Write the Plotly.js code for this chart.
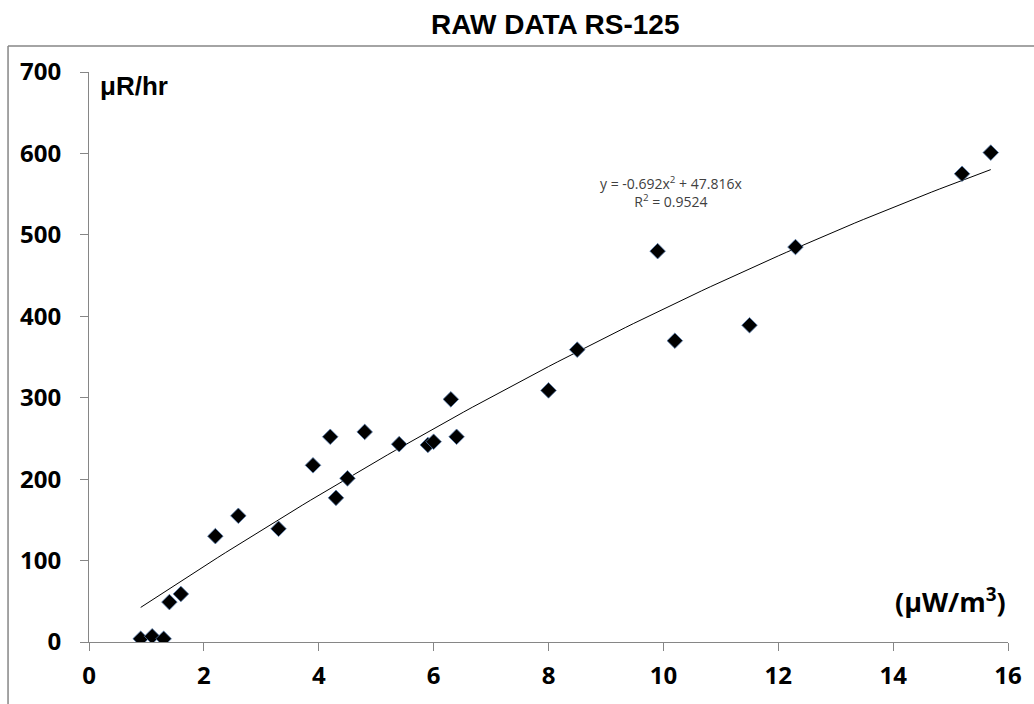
<!DOCTYPE html>
<html><head><meta charset="utf-8">
<script src="https://cdn.plot.ly/plotly-3.0.1.min.js"></script>
<style>html,body{margin:0;padding:0;background:#fff}#chart{width:1034px;height:704px}</style>
</head><body><div id="chart"></div>
<script>
// Data
const xValues = [0.9, 1.1, 1.3, 1.4, 1.6, 2.2, 2.6, 3.3, 3.9, 4.2, 4.3, 4.5, 4.8, 5.4, 5.9, 6.0, 6.3, 6.4, 8.0, 8.5, 9.9, 10.2, 11.5, 12.3, 15.2, 15.7];
const yValues = [4, 7, 4, 49, 59, 130, 155, 139, 217, 252, 177, 201, 258, 243, 242, 246, 298, 252, 309, 359, 480, 370, 389, 485, 575, 601];
// Trendline coefficients as stated on the chart
const coefA = -0.692;
const coefB = 47.816;
const rSquared = 0.9524;
const xTicks = [0, 2, 4, 6, 8, 10, 12, 14, 16];
const yTicks = [0, 100, 200, 300, 400, 500, 600, 700];

const xmin = Math.min(...xValues), xmax = Math.max(...xValues);
const tx = [], ty = [];
const n = 100;
for (let i = 0; i <= n; i++) {
  const x = xmin + (xmax - xmin) * i / n;
  tx.push(x); ty.push(coefA * x * x + coefB * x);
}

const tickFont = {family: 'Open Sans, Liberation Sans, sans-serif', size: 24, color: '#000', weight: 'bold'};
const data = [
  {x: tx, y: ty, mode: 'lines', line: {color: '#000', width: 1}, hoverinfo: 'skip', showlegend: false},
  {x: xValues, y: yValues, mode: 'markers', marker: {symbol: 'diamond', size: 12, color: '#000', line: {color: '#5b7fb0', width: 0.8}}, showlegend: false}
];
const layout = {
  width: 1034, height: 704,
  margin: {l: 89, r: 26, t: 72, b: 62},
  paper_bgcolor: '#fff', plot_bgcolor: '#fff',
  title: {text: 'RAW DATA RS-125', font: {family: 'Liberation Sans, Arial, sans-serif', size: 28, color: '#000', weight: 'bold'}, x: 0.537, xanchor: 'center', y: 0.965, yanchor: 'middle'},
  xaxis: {range: [0, 16], tickvals: xTicks, ticktext: xTicks.map(String), showgrid: false, zeroline: false, showline: true, linecolor: '#868686', linewidth: 1, ticks: 'outside', ticklen: 8, tickcolor: '#868686', tickfont: tickFont, ticklabelstandoff: 4, fixedrange: true},
  yaxis: {range: [0, 700], tickvals: yTicks, ticktext: yTicks.map(String), showgrid: false, zeroline: false, showline: true, linecolor: '#868686', linewidth: 1, ticks: 'outside', ticklen: 8, tickcolor: '#868686', tickfont: tickFont, ticklabelstandoff: 14, fixedrange: true},
  shapes: [
    {type: 'line', xref: 'paper', yref: 'paper', x0: -0.0881, x1: 1.1, y0: 1.0456, y1: 1.0456, line: {color: '#868686', width: 1.5}},
    {type: 'line', xref: 'paper', yref: 'paper', x0: -0.0881, x1: -0.0881, y0: 1.0456, y1: -0.2, line: {color: '#868686', width: 1.5}}
  ],
  annotations: [
    {xref: 'paper', yref: 'paper', x: 0.010, y: 1.005, xanchor: 'left', yanchor: 'top', showarrow: false, text: 'μR/hr', font: {family: 'Liberation Sans, Arial, sans-serif', size: 26, color: '#000', weight: 'bold'}},
    {xref: 'paper', yref: 'paper', x: 1.0, y: 0.035, xanchor: 'right', yanchor: 'bottom', showarrow: false, text: '(μW/m<sup>3</sup>)', font: {family: 'Open Sans, Liberation Sans, sans-serif', size: 27, color: '#000', weight: 'bold'}},
    {xref: 'paper', yref: 'paper', x: 0.633, y: 0.790, xanchor: 'center', yanchor: 'middle', showarrow: false, text: 'y = ' + coefA + 'x<sup>2</sup> + ' + coefB + 'x<br>R<sup>2</sup> = ' + rSquared, align: 'center', font: {family: 'Open Sans, Liberation Sans, sans-serif', size: 14, color: '#404040'}}
  ]
};
Plotly.newPlot('chart', data, layout, {displayModeBar: false, staticPlot: true});
</script></body></html>
